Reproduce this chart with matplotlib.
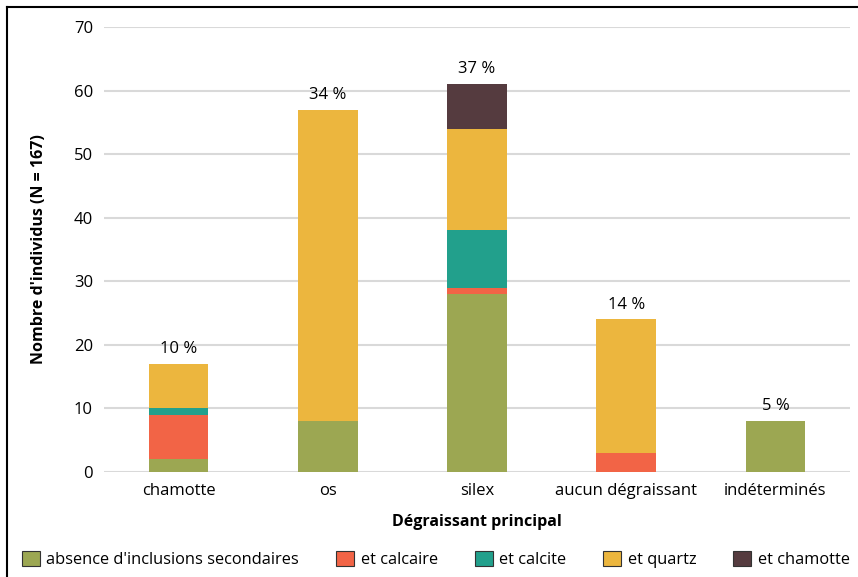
import matplotlib.pyplot as plt
from matplotlib.patches import Patch
import numpy as np

plt.rcParams['font.family'] = ['Open Sans', 'DejaVu Sans']

categories = ['chamotte', 'os', 'silex', 'aucun dégraissant', 'indéterminés']
absence = [2, 8, 28, 0, 8]
calcaire = [7, 0, 1, 3, 0]
calcite = [1, 0, 9, 0, 0]
quartz = [7, 49, 16, 21, 0]
chamotte = [0, 0, 7, 0, 0]
pct_labels = ['10 %', '34 %', '37 %', '14 %', '5 %']

series_names = ["absence d'inclusions secondaires", 'et calcaire', 'et calcite',
                'et quartz', 'et chamotte']
colors = ['#9CA752', '#F26446', '#22A08C', '#ECB63E', '#553B3F']

fig = plt.figure(figsize=(8.58, 5.77), dpi=100)
ax = fig.add_axes([0.1212, 0.182, 0.8695, 0.771])

x = np.arange(len(categories))
bottom = np.zeros(len(categories))
for vals, col in zip([absence, calcaire, calcite, quartz, chamotte], colors):
    ax.bar(x, vals, 0.4, bottom=bottom, color=col, zorder=3)
    bottom += np.array(vals)

for xi, tot, lab in zip(x, bottom, pct_labels):
    ax.annotate(lab, (xi, tot), xytext=(0, 5), textcoords='offset points',
                ha='center', va='bottom', fontsize=12)

ax.set_xlim(-0.5, 4.5)
ax.set_ylim(0, 70)
ax.set_yticks(range(0, 71, 10))
ax.set_xticks(x)
ax.set_xticklabels(categories)
ax.tick_params(length=0, labelsize=12, pad=8)
ax.tick_params(axis='y', pad=8)
ax.yaxis.grid(True, color='#D9D9D9', linewidth=1.5, zorder=0)
for s in ax.spines.values():
    s.set_visible(False)

ax.set_ylabel("Nombre d'individus (N = 167)", fontsize=11.5, fontweight='bold', labelpad=19)
ax.set_xlabel('Dégraissant principal', fontsize=11.5, fontweight='bold', labelpad=11)

handles = [Patch(facecolor=c, edgecolor='#333333', linewidth=0.8) for c in colors]
fig.legend(handles, series_names, loc='lower center', bbox_to_anchor=(0.508, -0.01),
           ncol=5, frameon=False, fontsize=11.8, handlelength=1.1, handleheight=1.1,
           handletextpad=0.4, columnspacing=2.25)

# cadre (haut et gauche)
fig.add_artist(plt.Line2D([7 / 858, 7 / 858], [0, 1 - 7 / 577], color='black', linewidth=1.5))
fig.add_artist(plt.Line2D([7 / 858, 1], [1 - 7 / 577, 1 - 7 / 577], color='black', linewidth=1.5))

fig.savefig('out.png', dpi=100)
